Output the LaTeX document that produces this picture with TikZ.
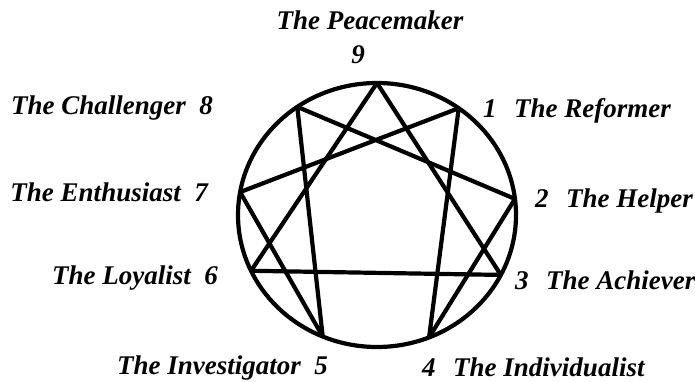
\documentclass[tikz,border=0pt]{standalone}
\usepackage{fontspec}
\usepackage{tikz}
\usetikzlibrary{positioning}
\newfontfamily\lblfont{Liberation Serif}
\newcommand{\lbl}{\lblfont\bfseries\itshape\fontsize{27}{31}\selectfont}

\begin{document}
\begin{tikzpicture}[x=1pt, y=1pt,
    every node/.style={font=\lbl, inner sep=0pt},
    ennea/.style={line width=4.2pt, line join=round, line cap=round}]
  \useasboundingbox (0,0) rectangle (695,382);

  % Circle and the nine points
  \begin{scope}[shift={(377,167)}]
    \draw[line width=4.2pt] (0,0) ellipse [x radius=139, y radius=132];
    \coordinate (p9) at (90:139 and 132);
    \coordinate (p1) at (54:139 and 132);
    \coordinate (p2) at (7:139 and 132);
    \coordinate (p3) at (-27:139 and 132);
    \coordinate (p4) at (-68:139 and 132);
    \coordinate (p5) at (-113:139 and 132);
    \coordinate (p6) at (-155:139 and 132);
    \coordinate (p7) at (170:139 and 132);
    \coordinate (p8) at (125:139 and 132);
  \end{scope}

  % Triangle
  \draw[ennea] (p9) -- (p3) -- (p6) -- cycle;
  % Hexad
  \draw[ennea] (p1) -- (p4) -- (p2) -- (p8) -- (p5) -- (p7) -- cycle;

  % Labels
  \node[anchor=base] (t9) at (370,352) {The Peacemaker};
  \node[anchor=base] (n9) at (358,318) {9};
  \node[anchor=base west] (t1) at (483,264) {1\hspace{0.65em}The Reformer};
  \node[anchor=base west] (t2) at (535,174) {2\hspace{0.65em}The Helper};
  \node[anchor=base west] (t3) at (515,92) {3\hspace{0.65em}The Achiever};
  \node[anchor=base west] (t4) at (422,5) {4\hspace{0.65em}The Individualist};
  \node[anchor=base east] (t5) at (328,7) {The Investigator\hspace{0.5em}5};
  \node[anchor=base east] (t6) at (218,97) {The Loyalist\hspace{0.5em}6};
  \node[anchor=base east] (t7) at (208,180) {The Enthusiast\hspace{0.5em}7};
  \node[anchor=base east] (t8) at (213,267) {The Challenger\hspace{0.5em}8};
\end{tikzpicture}
\end{document}
